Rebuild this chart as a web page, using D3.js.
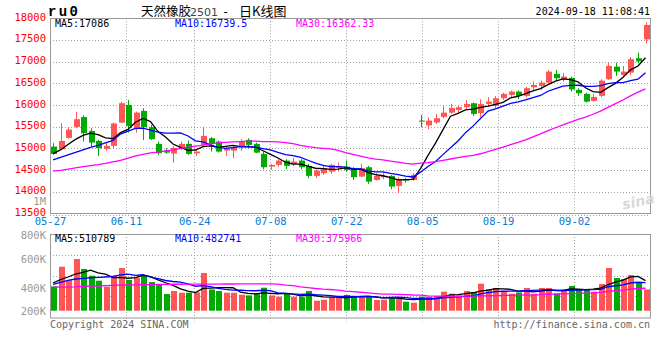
<!DOCTYPE html>
<html><head><meta charset="utf-8">
<script src="https://cdn.jsdelivr.net/npm/d3@7"></script>
<style>body{margin:0;background:#fff}svg{display:block}</style>
</head><body>
<svg id="c" width="660" height="360"></svg>
<script>
// ---------------- DATA ----------------
const symbol = "ru0";
const titleParts = ["天然橡胶", "2501", "-", "日K线图"];
const timestamp = "2024-09-18 11:08:41";
const dates = ["05-27","05-28","05-29","05-30","05-31","06-03","06-04","06-05","06-06","06-07",
 "06-11","06-12","06-13","06-14","06-17","06-18","06-19","06-20","06-21","06-24",
 "06-25","06-26","06-27","06-28","07-01","07-02","07-03","07-04","07-05","07-08",
 "07-09","07-10","07-11","07-12","07-15","07-16","07-17","07-18","07-19","07-22",
 "07-23","07-24","07-25","07-26","07-29","07-30","07-31","08-01","08-02","08-05",
 "08-06","08-07","08-08","08-09","08-12","08-13","08-14","08-15","08-16","08-19",
 "08-20","08-21","08-22","08-23","08-26","08-27","08-28","08-29","08-30","09-02",
 "09-03","09-04","09-05","09-06","09-09","09-10","09-11","09-12","09-13","09-18"];
const dateTicks = ["05-27","06-11","06-24","07-08","07-22","08-05","08-19","09-02"];
const open = [15038,14978,15240,15493,15719,15400,15170,14985,15055,15592,
 16000,15470,15862,15486,15101,14946,14877,15001,15101,14886,
 15078,15232,15154,14946,14946,15038,15193,15101,14870,14577,
 14616,14716,14639,14716,14593,14363,14425,14462,14547,14577,
 14540,14347,14563,14270,14333,14363,14132,14287,14270,15638,
 15527,15596,15723,15822,15885,15947,16039,15809,16023,15977,
 16154,16231,16307,16208,16408,16438,16514,16715,16593,16623,
 16346,16254,16092,16208,16593,16883,16692,16745,17077,17510];
const high = [15117,15578,15490,15839,15760,15463,15193,15117,15592,16076,
 16115,15845,15924,15539,15154,15001,15055,15154,15177,14962,
 15500,15255,15177,15025,15055,15209,15232,15131,14923,14639,
 14748,14748,14771,14748,14639,14517,14593,14639,14669,14716,
 14563,14639,14593,14425,14439,14386,14333,14310,14425,15769,
 15716,15792,15977,16023,16000,16115,16053,16131,16178,16208,
 16284,16330,16330,16422,16537,16560,16807,16807,16731,16653,
 16385,16284,16254,16593,16975,16975,16899,17100,17206,17902];
const low = [14847,14962,15220,15463,15154,15038,14824,14939,14990,15578,
 15361,15361,15193,15193,14847,14870,14669,14962,14847,14824,
 15025,14923,14900,14824,14771,14946,15001,14886,14517,14501,
 14577,14517,14593,14517,14310,14310,14386,14409,14462,14462,
 14270,14333,14178,14254,14287,14056,13964,14208,14254,15486,
 15440,15562,15689,15792,15822,15901,15746,15716,15947,15924,
 16115,16178,16131,16178,16330,16346,16500,16560,16537,16307,
 16208,16053,16076,16178,16576,16669,16639,16692,16957,17418];
const close = [14870,15170,15430,15670,15347,15131,15001,15055,15573,16039,
 15516,15822,15486,15209,14886,14900,15008,15101,14870,14923,
 15285,15101,14923,14992,15025,15147,15078,14900,14563,14616,
 14716,14593,14693,14563,14363,14485,14540,14616,14593,14501,
 14333,14540,14231,14363,14363,14116,14287,14254,14386,15615,
 15638,15693,15822,15931,15947,16023,15792,16023,16076,16154,
 16254,16307,16208,16385,16461,16514,16768,16616,16653,16357,
 16270,16076,16184,16560,16899,16768,16768,17054,17003,17845];
const volume = [413000,748000,519000,879000,709000,595000,510000,408000,595000,726000,
 522000,561000,607000,488000,437000,284000,335000,306000,306000,311000,
 641000,362000,335000,306000,306000,272000,260000,294000,391000,260000,
 238000,289000,238000,238000,335000,170000,187000,226000,238000,267000,
 238000,238000,250000,182000,187000,233000,226000,153000,136000,238000,
 238000,250000,323000,289000,260000,335000,318000,459000,369000,386000,
 318000,289000,311000,386000,289000,386000,386000,294000,362000,420000,
 362000,362000,323000,454000,726000,556000,539000,607000,488000,362000];
// moving-average values before enough bars exist
const ma5Head = [14878,14962,15089,15204];
const ma10Head = [14734,14789,14847,14905,14962,15020,15066,15124,15181];
const ma30Head = [14478,14490,14517,14547,14575,14598,14621,14649,14686,14720,
 14771,14824,14859,14893,14909,14939,14962,14997,15025,15050,
 15071,15101,15124,15135,15147,15154,15163,15163,15151];
const vma5Head = [471000,527000,573000,624000];
const vma10Head = [446000,480000,514000,539000,551000,560000,566000,573000,582000];
const vma30Head = [402000,402000,402000,405000,412000,420000,420000,425000,430000,435000,
 437000,440000,442000,445000,447000,449000,450000,450000,451000,452000,
 452000,453000,453000,454000,454000,455000,455000,456000,456000];
const priceTicks = [13500,14000,14500,15000,15500,16000,16500,17000,17500,18000];
const volTicks = [1000000,800000,600000,400000,200000];
const volTickLabels = ["1M","800K","600K","400K","200K"];
const maLegend = ["MA5:17086","MA10:16739.5","MA30:16362.33"];
const vmaLegend = ["MA5:510789","MA10:482741","MA30:375966"];

// ---------------- LAYOUT ----------------
const L = 50, R = 650;
const pTop = 18.2, pBot = 213.3;
const vTop = 234, vBot = 317.5, vBase = 310.7;
const RED = "#ff5555", GREEN = "#00aa00", GRID = "#a0a0a0", FRAME = "#9a9a9a";
const mono = "'DejaVu Sans Mono', monospace";
const cjk = "'Noto Sans CJK SC', sans-serif";
const maColors = ["#000000","#0000ff","#ff00ff"];

const svg = d3.select("#c");
const n = close.length;
const xC = d3.scaleLinear().domain([0, n - 1]).range([53, 645.5]);   // bar centres
const xG = d3.scaleLinear().domain([0, n - 1]).range([L, R]);         // grid / date ticks
const yP = d3.scaleLinear().domain([13500, 18000]).range([pBot, pTop]);
const yV = d3.scaleLinear().domain([0, 1000000]).range([vBase, vBase - 58.8]);
const yVLab = d3.scaleLinear().domain([1000000, 200000]).range([201, 317]);

function movAvg(vals, k, head) {
  return vals.map((v, i) => i < k - 1 ? head[i] : d3.mean(vals.slice(i - k + 1, i + 1)));
}
const tickIdx = dateTicks.map(d => dates.indexOf(d));

// ---------------- TITLE ROW ----------------
svg.append("text").attr("x", 48).attr("y", 16).attr("font-family", "'Liberation Mono', monospace")
  .attr("font-weight", "bold").attr("font-size", 14).attr("letter-spacing", 2.4).text(symbol);
const titleX = [141, 190, 222, 239];
const titleStyle = [
  {f: cjk, s: 12.5, c: "#000"}, {f: "'DejaVu Sans', sans-serif", s: 11, c: "#444"},
  {f: mono, s: 12, c: "#000"}, {f: cjk, s: 13, c: "#000"}];
titleParts.forEach((t, k) => {
  svg.append("text").attr("x", titleX[k]).attr("y", 15.5).attr("font-family", titleStyle[k].f)
    .attr("font-size", titleStyle[k].s).attr("fill", titleStyle[k].c).text(t);
});
svg.append("text").attr("x", 650).attr("y", 15).attr("text-anchor", "end")
  .attr("font-family", mono).attr("font-size", 10).text(timestamp);

// ---------------- PRICE PANEL ----------------
const gP = svg.append("g");
gP.selectAll("line.hg").data(priceTicks.filter(t => t > 13500 && t < 18000)).join("line")
  .attr("x1", L).attr("x2", R).attr("y1", d => Math.round(yP(d)) + 0.5).attr("y2", d => Math.round(yP(d)) + 0.5)
  .attr("stroke", GRID).attr("stroke-dasharray", "1,2");
gP.selectAll("line.vg").data(tickIdx.filter(i => i > 0)).join("line")
  .attr("x1", d => Math.round(xG(d)) + 0.5).attr("x2", d => Math.round(xG(d)) + 0.5)
  .attr("y1", pTop).attr("y2", pBot).attr("stroke", GRID).attr("stroke-dasharray", "1,2");
gP.append("rect").attr("x", L + 0.5).attr("y", Math.round(pTop) + 0.5).attr("width", R - L)
  .attr("height", Math.round(pBot) - Math.round(pTop)).attr("fill", "none").attr("stroke", FRAME);
gP.append("line").attr("x1", L).attr("x2", R).attr("y1", Math.round(pBot) + 2.5).attr("y2", Math.round(pBot) + 2.5)
  .attr("stroke", GRID).attr("stroke-dasharray", "1,2");

const axP = svg.append("g").attr("transform", `translate(${L},0)`)
  .call(d3.axisLeft(yP).tickValues(priceTicks).tickSize(0).tickPadding(4).tickFormat(d3.format("d")));
axP.select(".domain").remove();
axP.selectAll("text").attr("fill", "#ff0000").attr("font-family", mono).attr("font-size", 10.5).attr("dy", "0.2em");

const axD = svg.append("g").attr("transform", `translate(0,${Math.round(pBot) + 1})`)
  .call(d3.axisBottom(xG).tickValues(tickIdx).tickSize(0).tickPadding(4).tickFormat(i => dates[i]));
axD.select(".domain").remove();
axD.selectAll("text").attr("fill", "#0a7ad0").attr("font-family", mono).attr("font-size", 10.5);

// watermark
svg.append("text").attr("x", 622).attr("y", 207).attr("font-family", "'DejaVu Sans', sans-serif")
  .attr("font-style", "italic").attr("font-weight", "bold").attr("font-size", 14).attr("fill", "#d9d9d9")
  .attr("transform", "rotate(-12 634 202)").text("sina");

// candles
const cg = gP.append("g");
d3.range(n).forEach(i => {
  const up = close[i] >= open[i];
  const col = up ? RED : GREEN;
  const cx = Math.round(xC(i));
  cg.append("line").attr("x1", cx + 0.5).attr("x2", cx + 0.5)
    .attr("y1", yP(high[i])).attr("y2", yP(low[i])).attr("stroke", col).attr("stroke-width", 1);
  const yTop = yP(Math.max(open[i], close[i])), yBot = yP(Math.min(open[i], close[i]));
  cg.append("rect").attr("x", cx - 2).attr("y", yTop).attr("width", 6)
    .attr("height", Math.max(1, yBot - yTop)).attr("fill", col);
});

const lineP = d3.line().x((d, i) => xC(i)).y(d => yP(d));
[movAvg(close, 5, ma5Head), movAvg(close, 10, ma10Head), movAvg(close, 30, ma30Head)].forEach((s, k) => {
  gP.append("path").attr("d", lineP(s)).attr("fill", "none").attr("stroke", maColors[k]).attr("stroke-width", 1.3);
});
[55, 175, 296].forEach((x, k) => {
  gP.append("text").attr("x", x).attr("y", 27).attr("font-family", mono).attr("font-size", 10)
    .attr("fill", maColors[k]).text(maLegend[k]);
});

// ---------------- VOLUME PANEL ----------------
const gV = svg.append("g");
[254.8, 275.5, 296.2].forEach(y => {
  gV.append("line").attr("x1", L).attr("x2", R).attr("y1", Math.round(y) + 0.5).attr("y2", Math.round(y) + 0.5)
    .attr("stroke", GRID).attr("stroke-dasharray", "1,2");
});
gV.selectAll("line.vg").data(tickIdx.filter(i => i > 0)).join("line")
  .attr("x1", d => Math.round(xG(d)) + 0.5).attr("x2", d => Math.round(xG(d)) + 0.5)
  .attr("y1", vTop).attr("y2", vBot + 4).attr("stroke", GRID).attr("stroke-dasharray", "1,2");
gV.append("rect").attr("x", L + 0.5).attr("y", vTop + 0.5).attr("width", R - L).attr("height", vBot - vTop)
  .attr("fill", "none").attr("stroke", FRAME);

gV.selectAll("rect.vb").data(volume).join("rect")
  .attr("x", (d, i) => Math.round(xC(i)) - 2)
  .attr("y", d => yV(d)).attr("width", 6).attr("height", d => yV(0) - yV(d))
  .attr("fill", (d, i) => close[i] >= open[i] ? RED : GREEN);

const lineV = d3.line().x((d, i) => xC(i)).y(d => yV(d));
[movAvg(volume, 5, vma5Head), movAvg(volume, 10, vma10Head), movAvg(volume, 30, vma30Head)].forEach((s, k) => {
  gV.append("path").attr("d", lineV(s)).attr("fill", "none").attr("stroke", maColors[k]).attr("stroke-width", 1.3);
});
[55, 175, 296].forEach((x, k) => {
  gV.append("text").attr("x", x).attr("y", 242).attr("font-family", mono).attr("font-size", 10)
    .attr("fill", maColors[k]).text(vmaLegend[k]);
});
svg.selectAll("text.vl").data(volTicks).join("text")
  .attr("x", 46).attr("y", d => Math.max(Math.min(yVLab(d), 311), d === 800000 ? 235 : 0)).attr("dy", "0.35em")
  .attr("text-anchor", "end").attr("font-family", mono).attr("font-size", 10.5).attr("fill", "#999")
  .text((d, i) => volTickLabels[i]);

// ---------------- FOOTER ----------------
svg.append("text").attr("x", 50).attr("y", 328).attr("font-family", mono).attr("font-size", 10)
  .attr("fill", "#666").text("Copyright 2024 SINA.COM");
svg.append("text").attr("x", 650).attr("y", 328).attr("text-anchor", "end").attr("font-family", mono)
  .attr("font-size", 10).attr("fill", "#666").text("http://finance.sina.com.cn");
</script>
</body></html>
